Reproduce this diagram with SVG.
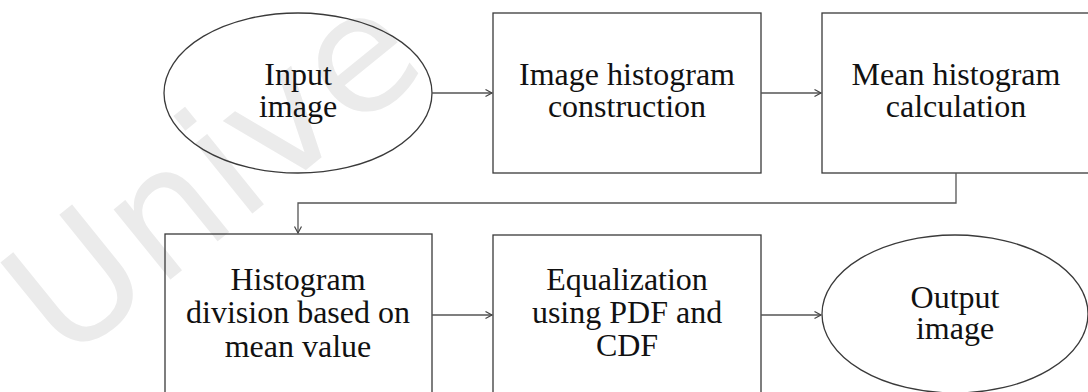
<svg xmlns="http://www.w3.org/2000/svg" width="1088" height="392" viewBox="0 0 1088 392">
  <style>
    .shape { fill: none; stroke: #3a3a3a; stroke-width: 1.3; }
    .label { font-family: "Liberation Serif", "Times New Roman", serif; font-size: 32px; fill: #111; text-anchor: middle; }
    .conn { fill: none; stroke: #555; stroke-width: 1.3; }
    .mark { font-family: "DejaVu Sans", Verdana, sans-serif; font-size: 165px; fill: #ebebeb; }
  </style>
  <defs>
    <marker id="arrow" markerWidth="10" markerHeight="10" refX="7" refY="4" orient="auto" markerUnits="userSpaceOnUse">
      <path d="M0.5,0.5 L7,4 L0.5,7.5" fill="none" stroke="#444" stroke-width="1.2"/>
    </marker>
  </defs>
  <rect width="1088" height="392" fill="#fff"/>

  <!-- background watermark -->
  <text class="mark" transform="translate(65,365) rotate(-39)">Unive</text>

  <g id="input-image">
    <ellipse class="shape" cx="298" cy="93" rx="134" ry="80"/>
    <text class="label" x="298" y="85">Input</text>
    <text class="label" x="298" y="117">image</text>
  </g>

  <g id="histogram-construction">
    <rect class="shape" x="493" y="13" width="268" height="160"/>
    <text class="label" x="627" y="85">Image histogram</text>
    <text class="label" x="627" y="117">construction</text>
  </g>

  <g id="mean-calculation">
    <rect class="shape" x="822" y="13" width="270" height="160"/>
    <text class="label" x="956" y="85">Mean histogram</text>
    <text class="label" x="956" y="117">calculation</text>
  </g>

  <g id="histogram-division">
    <rect class="shape" x="165" y="234" width="267" height="162"/>
    <text class="label" x="298" y="290">Histogram</text>
    <text class="label" x="298" y="323">division based on</text>
    <text class="label" x="298" y="357">mean value</text>
  </g>

  <g id="equalization">
    <rect class="shape" x="493" y="235" width="268" height="161"/>
    <text class="label" x="627" y="290">Equalization</text>
    <text class="label" x="627" y="323">using PDF and</text>
    <text class="label" x="627" y="356">CDF</text>
  </g>

  <g id="output-image">
    <ellipse class="shape" cx="955" cy="314" rx="133" ry="79"/>
    <text class="label" x="955" y="308">Output</text>
    <text class="label" x="955" y="339">image</text>
  </g>

  <g id="connectors">
    <line class="conn" x1="432" y1="93" x2="492" y2="93" marker-end="url(#arrow)"/>
    <line class="conn" x1="761" y1="93" x2="821" y2="93" marker-end="url(#arrow)"/>
    <path class="conn" d="M956,173 V203 H298 V233" marker-end="url(#arrow)"/>
    <line class="conn" x1="432" y1="315" x2="492" y2="315" marker-end="url(#arrow)"/>
    <line class="conn" x1="761" y1="315" x2="821" y2="315" marker-end="url(#arrow)"/>
  </g>
</svg>
